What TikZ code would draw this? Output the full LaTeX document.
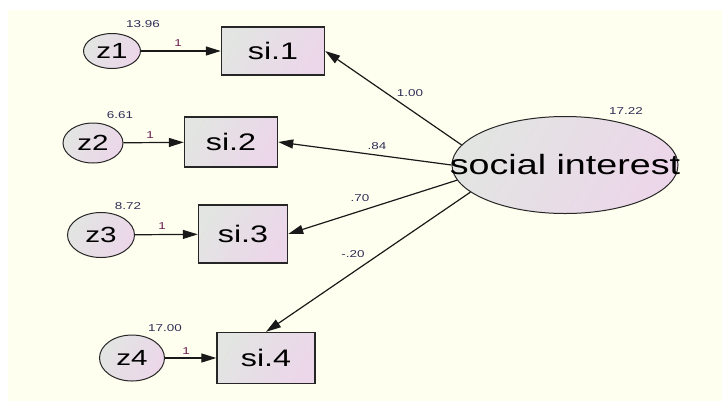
\documentclass[tikz,border=0pt]{standalone}
\usepackage{fontspec}
\setmainfont{Liberation Sans}[FakeStretch=1.35]
\usetikzlibrary{shapes.geometric,arrows.meta}
\definecolor{ivory}{RGB}{255,255,240}
\definecolor{fillA}{RGB}{226,229,226}
\definecolor{fillB}{RGB}{236,214,233}
\definecolor{estnum}{RGB}{45,45,85}
\definecolor{fixnum}{RGB}{105,30,80}
\tikzset{
  obsbox/.style={draw=black!85, line width=1.4bp, rectangle, inner sep=0pt,
    left color=fillA, right color=fillB, shading angle=60, font=\fontsize{24}{24}\selectfont},
  errnode/.style={draw=black!85, line width=1bp, ellipse, inner sep=0pt,
    left color=fillA, right color=fillB, shading angle=60, font=\fontsize{22}{22}\selectfont},
  latnode/.style={draw=black!85, line width=1bp, ellipse, inner sep=0pt,
    left color=fillA, right color=fillB, shading angle=60, font=\fontsize{28}{28}\selectfont},
  path/.style={draw=black!90, line width=1.2bp, -{Triangle[length=15bp,width=9bp]}},
  estlbl/.style={font=\fontsize{10}{10}\selectfont, text=estnum, inner sep=0pt},
  fixlbl/.style={font=\fontsize{10}{10}\selectfont, text=fixnum, inner sep=0pt}
}
\begin{document}
\begin{tikzpicture}[x=1bp, y=-1bp]
% Page and background
\useasboundingbox (0,0) rectangle (722,401);
\fill[white] (0,0) rectangle (722,401);
\fill[ivory] (8,10) rectangle (722,401);

% Observed variables
\node[obsbox, minimum width=103bp, minimum height=48bp] (si1) at (273,51) {si.1};
\node[obsbox, minimum width=93bp, minimum height=50bp] (si2) at (231,142) {si.2};
\node[obsbox, minimum width=89bp, minimum height=58bp] (si3) at (243,234) {si.3};
\node[obsbox, minimum width=98bp, minimum height=51bp] (si4) at (266,358) {si.4};

% Error terms
\node[errnode, minimum width=57bp, minimum height=35bp] (z1) at (112,51) {z1};
\node[errnode, minimum width=60bp, minimum height=40bp] (z2) at (93,143) {z2};
\node[errnode, minimum width=67bp, minimum height=45bp] (z3) at (101,235) {z3};
\node[errnode, minimum width=65bp, minimum height=46bp] (z4) at (132,358) {z4};

% Latent factor (text runs over the border, as in the original)
\node[latnode, minimum width=226bp, minimum height=97bp] (soc) at (565,165) {\makebox[0pt]{social interest}};

% Error paths
\draw[path] (z1) -- (si1);
\draw[path] (z2) -- (si2);
\draw[path] (z3) -- (si3);
\draw[path] (z4) -- (si4);

% Loadings
\draw[path] (soc.169) -- (si1.east);
\draw[path] (soc.west) -- (si2.east);
\draw[path] (soc.188) -- (si3.east);
\draw[path] (soc.196) -- (si4.north);

% Estimates
\node[estlbl] (v1) at (143,24) {13.96};
\node[estlbl] (v2) at (120,115) {6.61};
\node[estlbl] (v3) at (128,206) {8.72};
\node[estlbl] (v4) at (165,328) {17.00};
\node[estlbl] (v5) at (626,111) {17.22};
\node[fixlbl] (f1) at (178,43) {1};
\node[fixlbl] (f2) at (150,135) {1};
\node[fixlbl] (f3) at (162,226) {1};
\node[fixlbl] (f4) at (186,351) {1};
\node[estlbl] (l1) at (410,93) {1.00};
\node[estlbl] (l2) at (377,146) {.84};
\node[estlbl] (l3) at (360,198) {.70};
\node[estlbl] (l4) at (353,254) {-.20};
\end{tikzpicture}
\end{document}
